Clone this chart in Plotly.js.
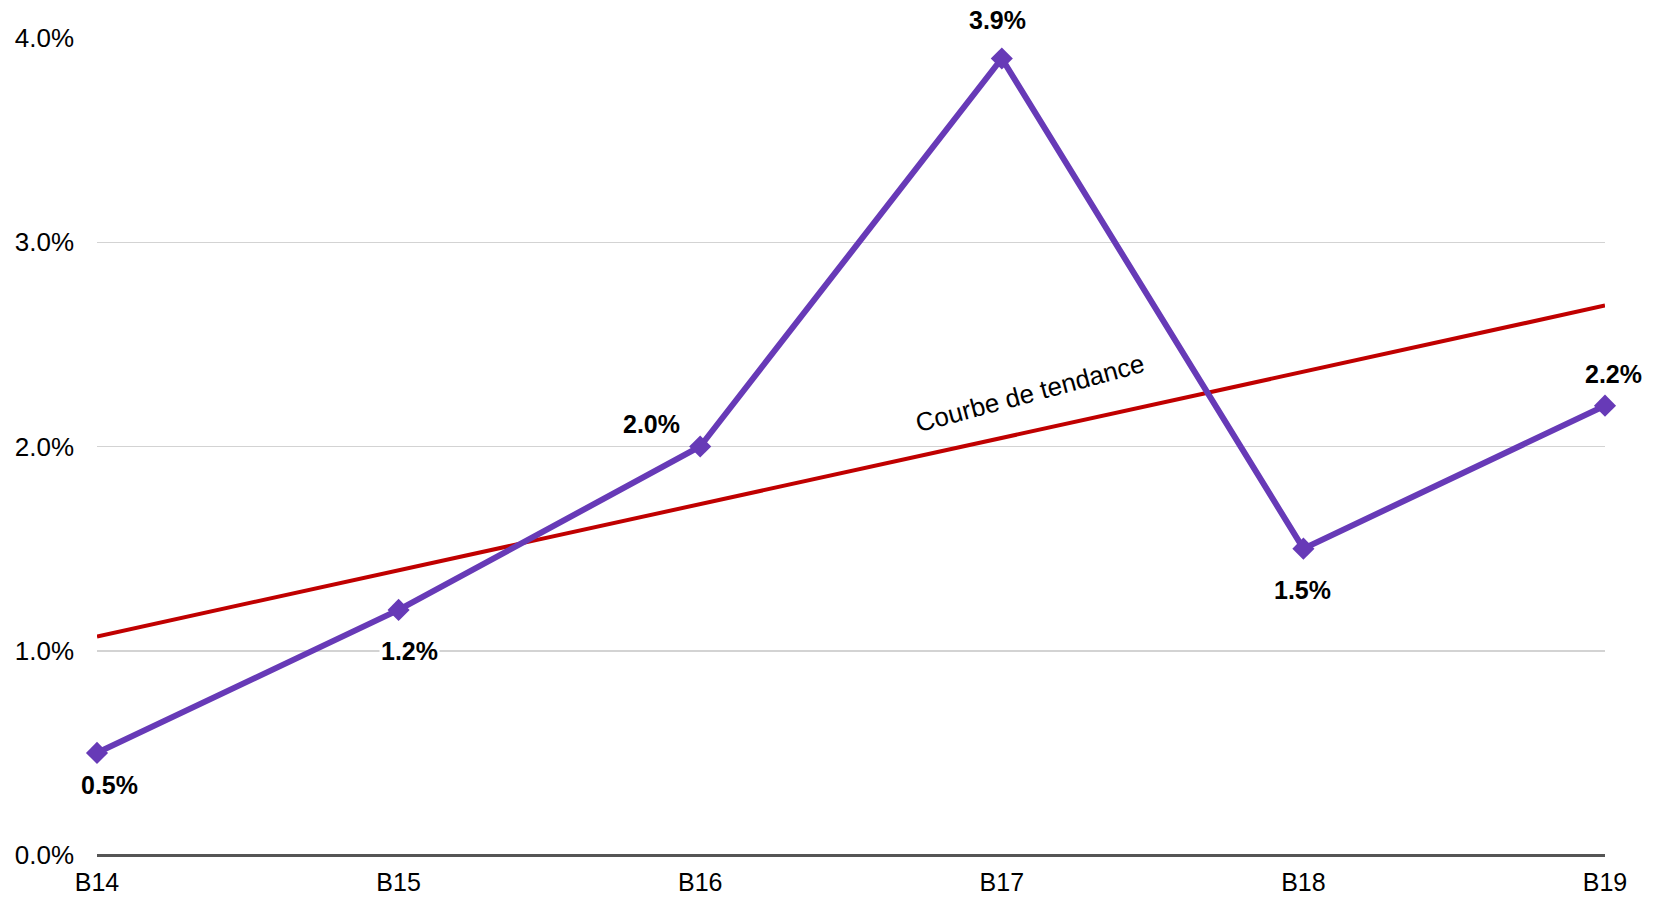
<!DOCTYPE html>
<html>
<head>
<meta charset="utf-8">
<script src="https://cdn.plot.ly/plotly-3.0.1.min.js"></script>
<style>
  html, body { margin: 0; padding: 0; background: #fff; }
  #chart { width: 1658px; height: 899px; }
</style>
</head>
<body>
<div id="chart"></div>
<script>
// Data
const categories = ['B14', 'B15', 'B16', 'B17', 'B18', 'B19'];
const values = [0.5, 1.2, 2.0, 3.9, 1.5, 2.2];          // percent
const trendCategories = ['B14', 'B19'];
const trendValues = [1.07, 2.69];                       // percent, trend line ends
const trendLabel = 'Courbe de tendance';
const yTickVals = [0, 1, 2, 3, 4];

// Label offsets in pixels (style only)
const labelShiftX = [12, 11, -49, -4, -1, 8];
const labelShiftY = [-32, -41, 23, 38, -41, 32];

const FONT = 'Arial, "Liberation Sans", sans-serif';
const PURPLE = '#673AB7';
const RED = '#C00000';

const traces = [
  {
    x: trendCategories,
    y: trendValues,
    type: 'scatter',
    mode: 'lines',
    line: { color: RED, width: 4 },
    cliponaxis: false,
    hoverinfo: 'skip',
    showlegend: false
  },
  {
    x: categories,
    y: values,
    type: 'scatter',
    mode: 'lines+markers',
    line: { color: PURPLE, width: 6 },
    marker: { symbol: 'diamond', size: 17, color: PURPLE },
    cliponaxis: false,
    showlegend: false
  }
];

const annotations = categories.map((c, i) => ({
  x: c,
  y: values[i],
  xref: 'x',
  yref: 'y',
  text: values[i].toFixed(1) + '%',
  showarrow: false,
  xshift: labelShiftX[i],
  yshift: labelShiftY[i],
  bgcolor: '#ffffff',
  borderpad: 1,
  font: { family: FONT, size: 25, color: '#000', weight: 'bold' }
}));

annotations.push({
  x: 0.619,
  y: 0.566,
  xref: 'paper',
  yref: 'paper',
  text: trendLabel,
  showarrow: false,
  textangle: -15,
  font: { family: FONT, size: 26, color: '#000' }
});

const layout = {
  width: 1658,
  height: 899,
  margin: { l: 97, r: 53, t: 38, b: 44 },
  paper_bgcolor: '#fff',
  plot_bgcolor: '#fff',
  font: { family: FONT, size: 25, color: '#000' },
  xaxis: {
    type: 'category',
    categoryorder: 'array',
    categoryarray: categories,
    range: [0, categories.length - 1],
    showgrid: false,
    zeroline: false,
    showline: false,
    ticks: '',
    ticklabelstandoff: 10,
    tickfont: { family: FONT, size: 25, color: '#000' },
    fixedrange: true
  },
  yaxis: {
    range: [0, 4],
    tickvals: yTickVals,
    ticktext: yTickVals.map(v => v.toFixed(1) + '%'),
    showgrid: true,
    gridcolor: '#d3d3d3',
    gridwidth: 1.5,
    zeroline: true,
    zerolinecolor: '#555555',
    zerolinewidth: 3,
    showline: false,
    ticks: '',
    ticklabelstandoff: 22,
    tickfont: { family: FONT, size: 26, color: '#000' },
    fixedrange: true
  },
  annotations: annotations,
  showlegend: false
};

Plotly.newPlot('chart', traces, layout, { displayModeBar: false, staticPlot: true });
</script>
</body>
</html>
